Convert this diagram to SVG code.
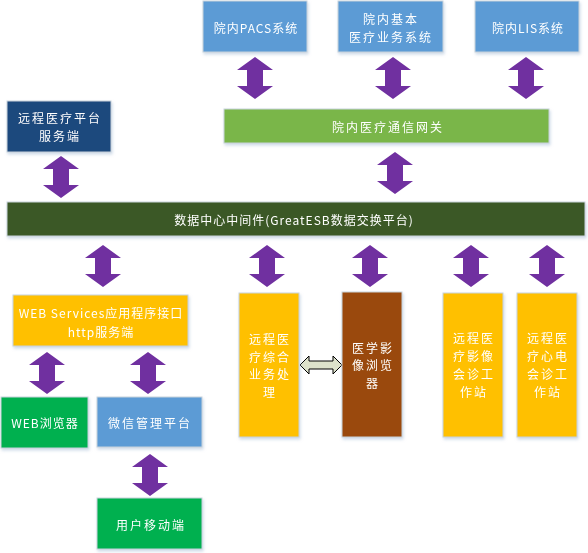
<svg xmlns="http://www.w3.org/2000/svg" width="588" height="553" viewBox="0 0 588 553">
<style>
.box{stroke:#c9d3dc;stroke-width:1}
.t{font-family:"Noto Sans CJK SC","Microsoft YaHei",sans-serif;font-size:12px;fill:#fff;text-anchor:middle;dominant-baseline:central;letter-spacing:2px}
.m{letter-spacing:1px}
.arr{fill:#7030A0}
</style>
<defs>
<filter id="sh" x="-10%" y="-10%" width="130%" height="140%">
<feDropShadow dx="1" dy="2" stdDeviation="1.5" flood-color="#9fb6d0" flood-opacity="0.5"/>
</filter>
<path id="va" d="M0,0 L18,13 L8,13 L8,29 L18,29 L0,42 L-18,29 L-8,29 L-8,13 L-18,13 Z"/>
</defs>
<rect width="588" height="553" fill="#fff"/>

<g id="connectors" class="arr">
<use href="#va" x="255" y="57"/>
<use href="#va" x="393" y="57"/>
<use href="#va" x="526" y="57"/>
<use href="#va" x="395" y="152"/>
<use href="#va" x="61" y="156"/>
<use href="#va" x="103" y="245"/>
<use href="#va" x="267" y="245"/>
<use href="#va" x="370" y="245"/>
<use href="#va" x="471" y="245"/>
<use href="#va" x="547" y="245"/>
<use href="#va" x="47" y="352"/>
<use href="#va" x="148" y="352"/>
<use href="#va" x="150" y="454"/>
<path d="M300,365 L309,356 L309,361 L333,361 L333,356 L342,365 L333,374 L333,369 L309,369 L309,374 Z" fill="#DDE2CB" stroke="#000" stroke-width="1"/>
</g>

<g id="pacs" filter="url(#sh)"><rect class="box" x="203" y="1" width="104" height="51" fill="#5B9BD5"/><text class="t m" x="256" y="27">院内PACS系统</text></g>
<g id="his" filter="url(#sh)"><rect class="box" x="338" y="1" width="105" height="51" fill="#5B9BD5"/><text class="t" x="391" y="18">院内基本</text><text class="t" x="391" y="36">医疗业务系统</text></g>
<g id="lis" filter="url(#sh)"><rect class="box" x="475" y="1" width="104" height="51" fill="#5B9BD5"/><text class="t m" x="528" y="27">院内LIS系统</text></g>
<g id="gateway" filter="url(#sh)"><rect class="box" x="224" y="109" width="325" height="34" fill="#7AB648"/><text class="t" x="388" y="126">院内医疗通信网关</text></g>
<g id="remote-server" filter="url(#sh)"><rect class="box" x="7" y="101" width="104" height="51" fill="#1F497D"/><text class="t" x="60" y="117">远程医疗平台</text><text class="t" x="60" y="135">服务端</text></g>
<g id="esb" filter="url(#sh)"><rect class="box" x="7" y="202" width="578" height="34" fill="#3A5825"/><text class="t m" x="294" y="219">数据中心中间件(GreatESB数据交换平台)</text></g>
<g id="webservices" filter="url(#sh)"><rect class="box" x="13" y="295" width="175" height="51" fill="#FFC000"/><text class="t m" x="101" y="312">WEB Services应用程序接口</text><text class="t m" x="101" y="331">http服务端</text></g>
<g id="remote-biz" filter="url(#sh)"><rect class="box" x="239" y="293" width="60" height="144" fill="#FFC000"/><text class="t" x="270" y="338">远程医</text><text class="t" x="270" y="356">疗综合</text><text class="t" x="270" y="373">业务处</text><text class="t" x="270" y="391">理</text></g>
<g id="image-viewer" filter="url(#sh)"><rect class="box" x="342" y="292" width="60" height="145" fill="#9A4A0B"/><text class="t" x="373" y="347">医学影</text><text class="t" x="373" y="364">像浏览</text><text class="t" x="373" y="382">器</text></g>
<g id="image-consult" filter="url(#sh)"><rect class="box" x="443" y="293" width="60" height="144" fill="#FFC000"/><text class="t" x="474" y="337">远程医</text><text class="t" x="474" y="355">疗影像</text><text class="t" x="474" y="373">会诊工</text><text class="t" x="474" y="391">作站</text></g>
<g id="ecg-consult" filter="url(#sh)"><rect class="box" x="517" y="293" width="60" height="144" fill="#FFC000"/><text class="t" x="548" y="337">远程医</text><text class="t" x="548" y="355">疗心电</text><text class="t" x="548" y="373">会诊工</text><text class="t" x="548" y="391">作站</text></g>
<g id="web-browser" filter="url(#sh)"><rect class="box" x="1" y="397" width="87" height="51" fill="#00B050"/><text class="t m" x="45" y="422">WEB浏览器</text></g>
<g id="wechat" filter="url(#sh)"><rect class="box" x="97" y="397" width="105" height="50" fill="#5B9BD5"/><text class="t" x="150" y="422">微信管理平台</text></g>
<g id="mobile" filter="url(#sh)"><rect class="box" x="97" y="498" width="105" height="51" fill="#00B050"/><text class="t" x="151" y="524">用户移动端</text></g>
</svg>
